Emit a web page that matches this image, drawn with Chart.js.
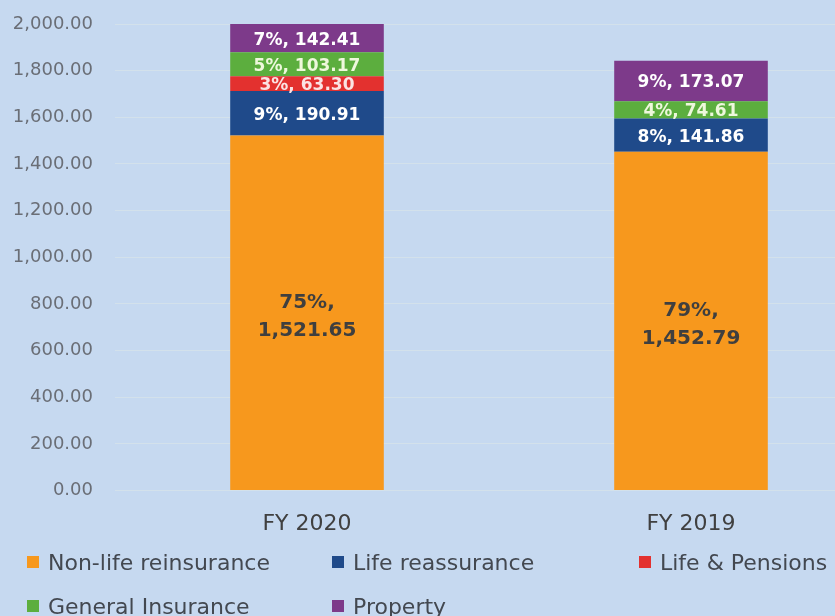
<!DOCTYPE html>
<html>
<head>
<meta charset="utf-8">
<script src="https://cdn.jsdelivr.net/npm/chart.js@4.4.1/dist/chart.umd.min.js"></script>
<style>
    html, body { margin: 0; padding: 0; background: #c6d9f0; overflow: hidden; }
    #wrap { position: relative; width: 835px; height: 616px; overflow: hidden; }
    #salesChart { position: absolute; left: 0; top: 0; }
    #legend {
        position: absolute; left: 27px; top: 547px;
        display: grid; grid-template-columns: 305px 307px 320px; row-gap: 14px;
        font-family: "DejaVu Sans", sans-serif; font-size: 22px; color: #434850;
        white-space: nowrap;
    }
    .item { display: flex; align-items: center; height: 30px; }
    .box { width: 12px; height: 12px; margin-right: 9px; }
</style>
</head>
<body>
<div id="wrap">
    <canvas id="salesChart" width="883" height="557"></canvas>
    <div id="legend"></div>
</div>
<script>
// --- DATA ---
const categories = ['FY 2020', 'FY 2019'];
const nonLife = [1521.65, 1452.79];
const lifeReassurance = [190.91, 141.86];
const lifePensions = [63.30, 0];
const generalInsurance = [103.17, 74.61];
const property = [142.41, 173.07];
const yTicks = [0, 200, 400, 600, 800, 1000, 1200, 1400, 1600, 1800, 2000];

const seriesList = [
    { label: 'Non-life reinsurance', data: nonLife, color: '#f7981d', text: '#3f3f3f' },
    { label: 'Life reassurance', data: lifeReassurance, color: '#1f4a8a', text: '#ffffff' },
    { label: 'Life & Pensions', data: lifePensions, color: '#e3312f', text: '#fbe3e3' },
    { label: 'General Insurance', data: generalInsurance, color: '#5cae3e', text: '#eef8dc' },
    { label: 'Property', data: property, color: '#7d3a8a', text: '#ffffff' }
];

const totals = categories.map((c, i) => seriesList.reduce((s, d) => s + d.data[i], 0));
const fmt = (v) => v.toLocaleString('en-US', { minimumFractionDigits: 2, maximumFractionDigits: 2 });

// --- SEGMENT LABELS ---
const segmentLabels = {
    id: 'segmentLabels',
    afterDatasetsDraw(chart) {
        const ctx = chart.ctx;
        const area = chart.chartArea;
        ctx.save();
        ctx.textAlign = 'center';
        ctx.textBaseline = 'middle';
        chart.data.datasets.forEach((ds, di) => {
            const meta = chart.getDatasetMeta(di);
            meta.data.forEach((bar, i) => {
                const v = ds.data[i];
                if (!v) return;
                const top = Math.max(Math.min(bar.y, bar.base), area.top);
                const bottom = Math.min(Math.max(bar.y, bar.base), area.bottom);
                const cy = (top + bottom) / 2 + 2;
                const pct = Math.round(v / totals[i] * 100) + '%,';
                ctx.fillStyle = seriesList[di].text;
                if (di === 0) {
                    ctx.font = 'bold 20px "DejaVu Sans"';
                    ctx.fillText(pct, bar.x, cy - 12);
                    ctx.fillText(fmt(v), bar.x, cy + 16);
                } else {
                    ctx.font = 'bold 17px "DejaVu Sans"';
                    ctx.fillText(pct + ' ' + fmt(v), bar.x, cy);
                }
            });
        });
        ctx.restore();
    }
};

const chart = new Chart(document.getElementById('salesChart'), {
    type: 'bar',
    data: {
        labels: categories,
        datasets: seriesList.map(s => ({
            label: s.label,
            data: s.data,
            backgroundColor: s.color,
            borderWidth: 0,
            barPercentage: 0.4,
            categoryPercentage: 1
        }))
    },
    options: {
        responsive: false,
        animation: false,
        layout: { padding: { top: 24, right: 0, left: 0, bottom: 0 } },
        plugins: { legend: { display: false }, tooltip: { enabled: false } },
        scales: {
            x: {
                stacked: true,
                grid: { display: false, drawTicks: false },
                border: { display: false },
                ticks: { color: '#404040', font: { family: 'DejaVu Sans', size: 22 }, padding: 20 }
            },
            y: {
                stacked: true,
                min: 0,
                max: 2000,
                afterBuildTicks: (axis) => { axis.ticks = yTicks.map(v => ({ value: v })); },
                afterFit: (axis) => {
                    axis.width = 115;
                    axis.paddingTop = 0;
                    axis.paddingBottom = 0;
                },
                grid: { color: 'rgba(235, 240, 225, 0.35)', drawTicks: false },
                border: { display: false },
                ticks: {
                    color: '#6a6e76',
                    font: { family: 'DejaVu Sans', size: 18 },
                    padding: 22,
                    callback: (v) => fmt(v)
                }
            }
        }
    },
    plugins: [segmentLabels]
});

// --- HTML LEGEND ---
const legendEl = document.getElementById('legend');
chart.data.datasets.forEach(ds => {
    const item = document.createElement('div');
    item.className = 'item';
    item.innerHTML = `<span class="box" style="background:${ds.backgroundColor}"></span><span>${ds.label.replace('&', '&amp;')}</span>`;
    legendEl.appendChild(item);
});
</script>
</body>
</html>
